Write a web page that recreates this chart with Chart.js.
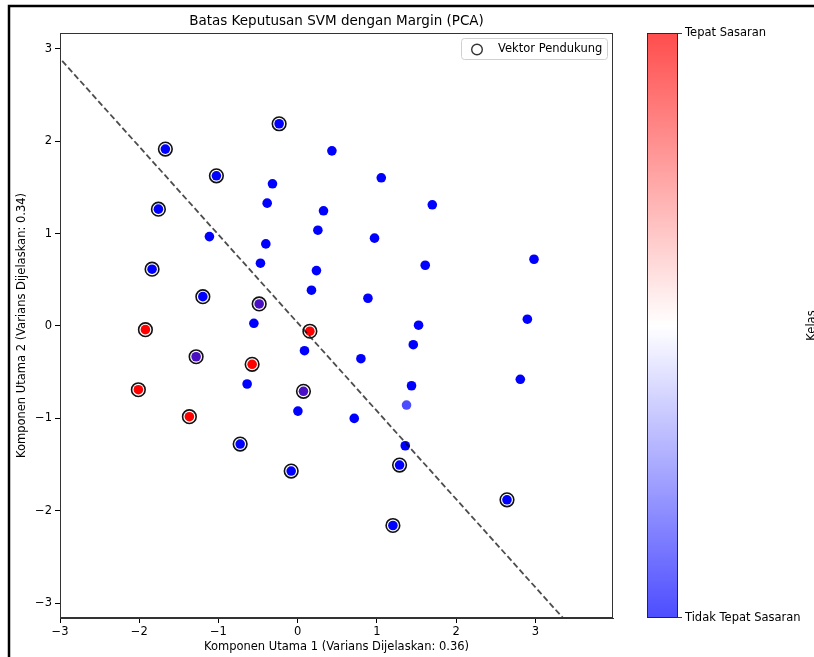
<!DOCTYPE html>
<html>
<head>
<meta charset="utf-8">
<script src="https://cdn.jsdelivr.net/npm/chart.js@4"></script>
<style>
  body { margin: 0; background: #fff; }
  canvas { display: block; }
</style>
</head>
<body>
<canvas id="svmChart" width="814" height="657" style="width:814px;height:657px"></canvas>
<script>
// Data (PCA coordinates)
// kelas: 'tidak' = Tidak Tepat Sasaran, 'tepat' = Tepat Sasaran,
// 'campur' = both classes on top of each other, 'tunggal' = one faint sample
const titikX = [0.432, -0.318, 1.055, -0.385, 0.326, 1.699, -1.114, 0.255, -0.402, 0.970,
  -0.470, 0.237, 1.610, 2.983, 0.174, 0.887, -0.553, 1.526, 2.899, 0.086,
  1.459, 0.798, -0.638, 1.437, 1.374, 2.810, 0.003, 0.714, 1.358];
const titikY = [1.895, 1.538, 1.603, 1.329, 1.246, 1.311, 0.967, 1.036, 0.888, 0.950,
  0.679, 0.599, 0.657, 0.722, 0.387, 0.300, 0.029, 0.008, 0.073, -0.268,
  -0.203, -0.354, -0.628, -0.647, -0.856, -0.577, -0.921, -1.000, -1.296];
const titikKelas = ['tidak', 'tidak', 'tidak', 'tidak', 'tidak', 'tidak', 'tidak', 'tidak', 'tidak', 'tidak',
  'tidak', 'tidak', 'tidak', 'tidak', 'tidak', 'tidak', 'tidak', 'tidak', 'tidak', 'tidak',
  'tidak', 'tidak', 'tidak', 'tidak', 'tunggal', 'tidak', 'tidak', 'tidak', 'tidak'];

// Support vectors
const svX = [-0.234, -1.670, -1.026, -1.758, -1.838, -1.197, -0.486, -1.922, 0.154, -1.282,
  -0.575, -2.011, 0.073, -1.367, -0.726, -0.082, 1.286, 2.642, 1.202];
const svY = [2.188, 1.914, 1.625, 1.264, 0.614, 0.317, 0.238, -0.040, -0.057, -0.333,
  -0.415, -0.690, -0.707, -0.982, -1.278, -1.570, -1.505, -1.881, -2.159];
const svKelas = ['tidak', 'tidak', 'tidak', 'tidak', 'tidak', 'tidak', 'campur', 'tepat', 'tepat', 'campur',
  'tepat', 'tepat', 'campur', 'tepat', 'tidak', 'tidak', 'tidak', 'tidak', 'tidak'];

// Decision boundary (two ends, clipped by the axes)
const batasX = [-3.2, 3.5];
const batasY = [3.085, -3.304];

const tickX = [-3, -2, -1, 0, 1, 2, 3];
const tickY = [-3, -2, -1, 0, 1, 2, 3];
const kelasLabels = ['Tidak Tepat Sasaran', 'Tepat Sasaran'];

const warnaKelas = {
    tidak: '#0000ff',
    tepat: '#ff0000',
    campur: '#4a0fc2',
    tunggal: '#4d4dff'
};

const FONT = "'DejaVu Sans', sans-serif";
const minus = v => (v < 0 ? '\u2212' + Math.abs(v) : String(v));

const semuaX = titikX.concat(svX);
const semuaY = titikY.concat(svY);
const semuaKelas = titikKelas.concat(svKelas);

// draws frame, titles, legend, colorbar
const extrasPlugin = {
    id: 'extras',
    afterDraw(chart) {
        const ctx = chart.ctx;
        const a = chart.chartArea;
        ctx.save();

        // axes frame
        ctx.strokeStyle = '#333';
        ctx.lineWidth = 1;
        ctx.strokeRect(a.left + 0.5, a.top + 0.5, a.right - a.left - 1, a.bottom - a.top - 1);

        ctx.fillStyle = '#000';
        ctx.font = '13.5px ' + FONT;
        ctx.textAlign = 'center';
        ctx.textBaseline = 'middle';
        ctx.fillText('Batas Keputusan SVM dengan Margin (PCA)', (a.left + a.right) / 2, 21);

        ctx.font = '11.5px ' + FONT;
        ctx.fillText('Komponen Utama 1 (Varians Dijelaskan: 0.36)', (a.left + a.right) / 2, 647);
        ctx.save();
        ctx.translate(22, (a.top + a.bottom) / 2);
        ctx.rotate(-Math.PI / 2);
        ctx.fillText('Komponen Utama 2 (Varians Dijelaskan: 0.34)', 0, 0);
        ctx.restore();

        // legend
        const lx = 461.5, ly = 38.5, lw = 146, lh = 21;
        ctx.beginPath();
        ctx.roundRect(lx, ly, lw, lh, 3);
        ctx.fillStyle = 'rgba(255,255,255,0.85)';
        ctx.fill();
        ctx.strokeStyle = '#d0d0d0';
        ctx.stroke();
        ctx.beginPath();
        ctx.arc(477, 49.5, 5.3, 0, Math.PI * 2);
        ctx.strokeStyle = '#333';
        ctx.lineWidth = 1.4;
        ctx.stroke();
        ctx.fillStyle = '#000';
        ctx.textAlign = 'left';
        ctx.fillText('Vektor Pendukung', 498, 49.5);

        // colorbar
        const cx = 647, cw = 31, ct = a.top, cb = a.bottom;
        const g = ctx.createLinearGradient(0, ct, 0, cb);
        g.addColorStop(0, 'rgb(255,77,77)');
        g.addColorStop(0.5, 'rgb(255,255,255)');
        g.addColorStop(1, 'rgb(77,77,255)');
        ctx.fillStyle = g;
        ctx.fillRect(cx, ct, cw, cb - ct);
        ctx.strokeStyle = '#222';
        ctx.lineWidth = 0.9;
        ctx.strokeRect(cx + 0.5, ct + 0.5, cw - 1, cb - ct - 1);
        ctx.beginPath();
        ctx.moveTo(cx + cw, ct + 0.5); ctx.lineTo(cx + cw + 4, ct + 0.5);
        ctx.moveTo(cx + cw, cb - 0.5); ctx.lineTo(cx + cw + 4, cb - 0.5);
        ctx.stroke();
        ctx.fillStyle = '#000';
        ctx.fillText(kelasLabels[1], cx + cw + 7, ct);
        ctx.fillText(kelasLabels[0], cx + cw + 7, cb);
        ctx.save();
        ctx.translate(812, (ct + cb) / 2);
        ctx.rotate(-Math.PI / 2);
        ctx.textAlign = 'center';
        ctx.fillText('Kelas', 0, 0);
        ctx.restore();

        // figure border (only top and left are visible)
        ctx.strokeStyle = '#000';
        ctx.lineWidth = 2.5;
        ctx.beginPath();
        ctx.moveTo(9, 657); ctx.lineTo(9, 6); ctx.lineTo(814, 6);
        ctx.stroke();

        ctx.restore();
    }
};

const ctx = document.getElementById('svmChart').getContext('2d');
new Chart(ctx, {
    type: 'scatter',
    data: {
        datasets: [{
            label: 'Data',
            data: semuaX.map((x, i) => ({ x: x, y: semuaY[i] })),
            backgroundColor: semuaKelas.map(k => warnaKelas[k]),
            borderColor: semuaKelas.map(k => warnaKelas[k]),
            borderWidth: 0,
            pointRadius: 4.8,
            order: 3
        }, {
            type: 'line',
            label: 'Batas',
            data: batasX.map((x, i) => ({ x: x, y: batasY[i] })),
            borderColor: 'rgba(0,0,0,0.7)',
            borderWidth: 1.8,
            borderDash: [6, 3],
            pointRadius: 0,
            fill: false,
            order: 2
        }, {
            label: 'Vektor Pendukung',
            data: svX.map((x, i) => ({ x: x, y: svY[i] })),
            backgroundColor: 'rgba(0,0,0,0)',
            borderColor: '#111',
            borderWidth: 1.6,
            pointRadius: 6.8,
            order: 1
        }]
    },
    options: {
        responsive: false,
        animation: false,
        events: [],
        layout: { padding: { left: 0, top: 33, right: 201, bottom: 0 } },
        plugins: {
            legend: { display: false },
            tooltip: { enabled: false }
        },
        scales: {
            x: {
                type: 'linear',
                min: -3,
                max: 3.98,
                afterBuildTicks: s => { s.ticks = tickX.map(v => ({ value: v })); },
                afterFit: s => { s.height = 39; },
                ticks: {
                    callback: v => minus(v),
                    color: '#000',
                    font: { family: FONT, size: 11.5 },
                    padding: 2,
                    maxRotation: 0,
                    autoSkip: false
                },
                grid: { drawOnChartArea: false, tickLength: 5, color: '#000' },
                border: { color: '#333' }
            },
            y: {
                type: 'linear',
                min: -3.16,
                max: 3.17,
                afterBuildTicks: s => { s.ticks = tickY.map(v => ({ value: v })); },
                afterFit: s => { s.width = 60; },
                ticks: {
                    callback: v => minus(v),
                    color: '#000',
                    font: { family: FONT, size: 11.5 },
                    padding: 3,
                    autoSkip: false
                },
                grid: { drawOnChartArea: false, tickLength: 5, color: '#000' },
                border: { color: '#333' }
            }
        }
    },
    plugins: [extrasPlugin]
});
</script>
</body>
</html>
